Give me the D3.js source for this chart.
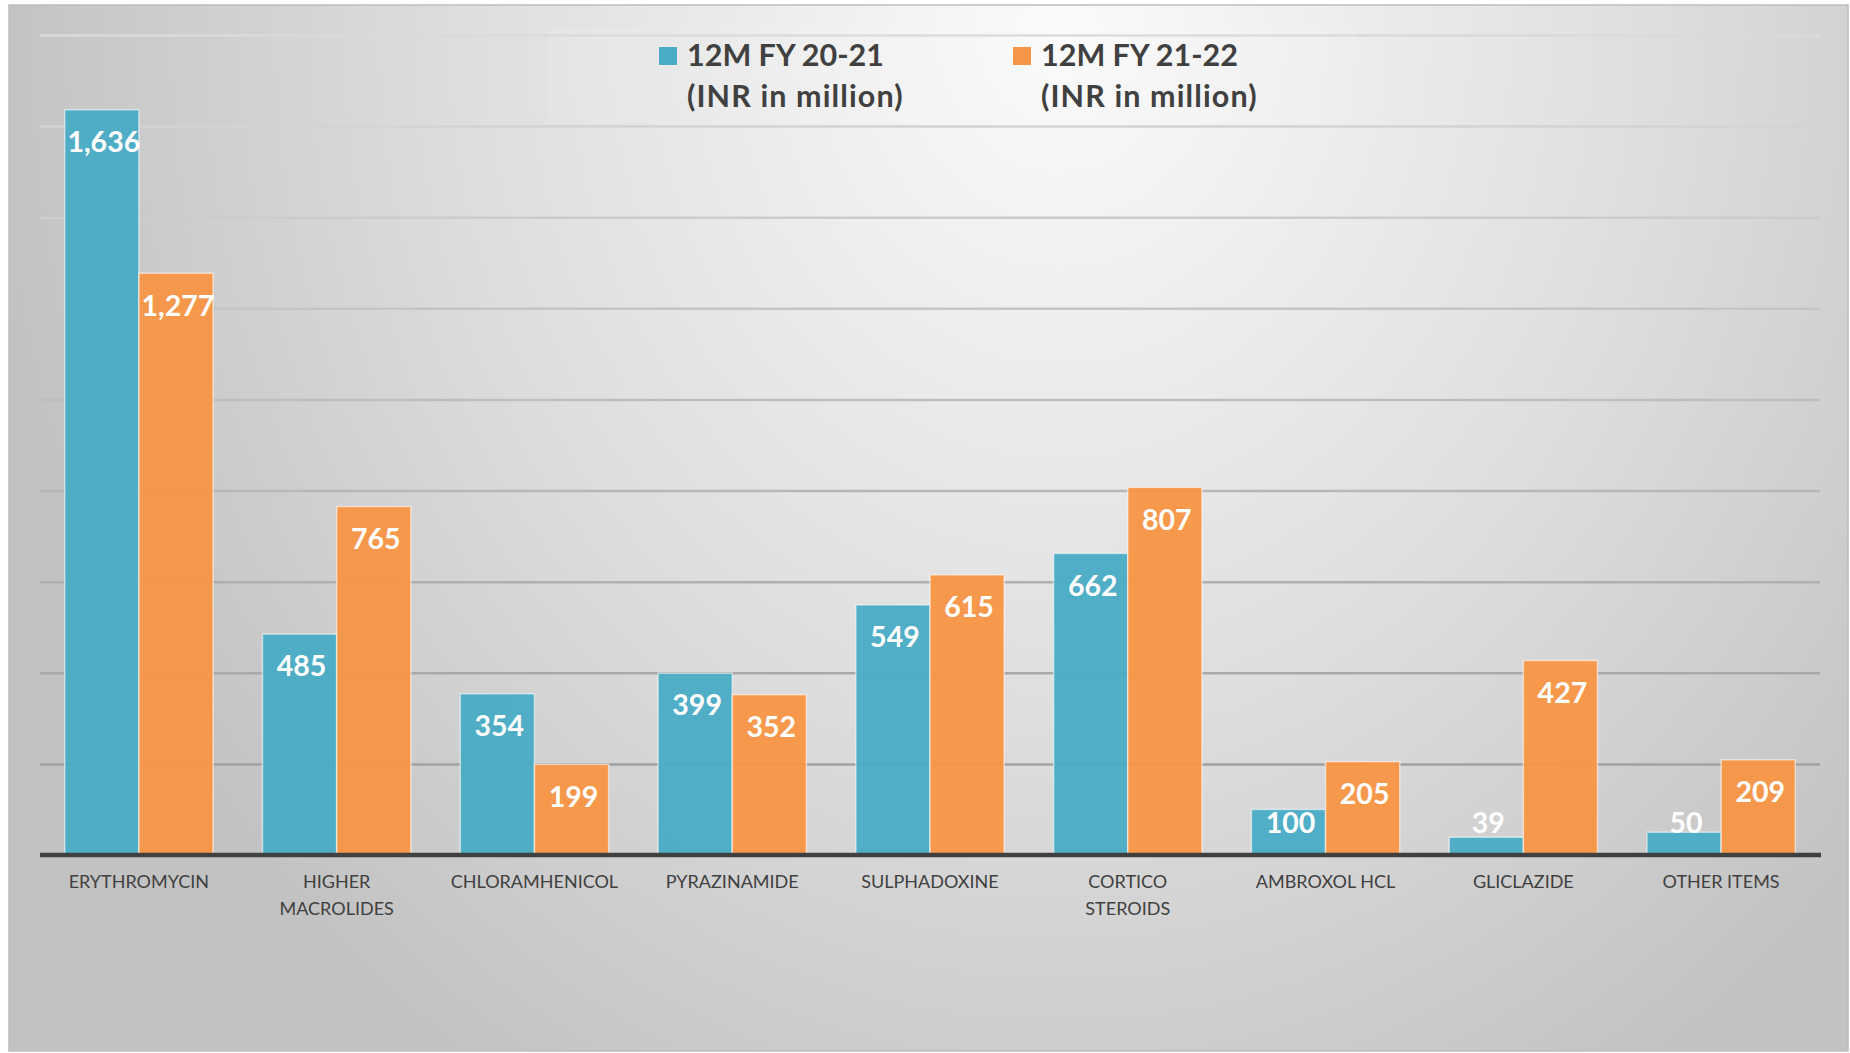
<!DOCTYPE html>
<html>
<head>
<meta charset="utf-8">
<script src="https://cdn.jsdelivr.net/npm/d3@7"></script>
<style>
  html, body { margin: 0; padding: 0; background: #ffffff; }
  svg { display: block; }
  text { font-family: Lato, "Open Sans", "DejaVu Sans", sans-serif; }
</style>
</head>
<body>
<svg id="chart" width="1850" height="1053"></svg>
<script>
// chart data
const categories = [
  'ERYTHROMYCIN', 'HIGHER\nMACROLIDES', 'CHLORAMHENICOL', 'PYRAZINAMIDE',
  'SULPHADOXINE', 'CORTICO\nSTEROIDS', 'AMBROXOL HCL', 'GLICLAZIDE', 'OTHER ITEMS'
];
const seriesNames = ['12M FY 20-21', '12M FY 21-22'];
const seriesUnit = '(INR in million)';
const fy2021 = [1636, 485, 354, 399, 549, 662, 100, 39, 50];
const fy2122 = [1277, 765, 199, 352, 615, 807, 205, 427, 209];
const yTicks = [0, 200, 400, 600, 800, 1000, 1200, 1400, 1600, 1800];

const COLORS = ['#4bacc6', '#f79646'];
const PLOT = { left: 40, right: 1820, top: 35, bottom: 855 };

const svg = d3.select('#chart');
const defs = svg.append('defs');

const bg = defs.append('radialGradient')
  .attr('id', 'bgGrad')
  .attr('gradientUnits', 'userSpaceOnUse')
  .attr('cx', 0).attr('cy', 0).attr('r', 1)
  .attr('gradientTransform', 'translate(1060,30) scale(1080,1250)');
bg.append('stop').attr('offset', 0).attr('stop-color', '#fbfbfb');
bg.append('stop').attr('offset', 0.55).attr('stop-color', '#dedede');
bg.append('stop').attr('offset', 1).attr('stop-color', '#c2c2c2');

// chart area
svg.append('rect')
  .attr('x', 9).attr('y', 5)
  .attr('width', 1839).attr('height', 1046)
  .attr('fill', 'url(#bgGrad)')
  .attr('stroke', '#bdbdbd')
  .attr('stroke-width', 1.5);

const x0 = d3.scaleBand()
  .domain(categories)
  .range([PLOT.left, PLOT.right])
  .paddingInner(0.25)
  .paddingOuter(0.125);

const x1 = d3.scaleBand()
  .domain([0, 1])
  .range([0, x0.bandwidth()]);

const y = d3.scaleLinear()
  .domain([0, 1800])
  .range([PLOT.bottom, PLOT.top]);

const gridColor = d3.scaleLinear()
  .domain([200, 1800])
  .range(['#a2a2a2', '#dadada']);

// gridlines
const gridG = svg.append('g')
  .attr('transform', `translate(${PLOT.left},0)`)
  .call(d3.axisLeft(y)
    .tickValues(yTicks.filter(t => t > 0))
    .tickSize(-(PLOT.right - PLOT.left))
    .tickFormat(() => ''));
gridG.select('.domain').remove();
gridG.selectAll('.tick line')
  .attr('stroke', d => gridColor(d))
  .attr('stroke-width', 2.5);

// bars
const seriesValues = [fy2021, fy2122];
const barData = [];
categories.forEach((c, i) => {
  seriesValues.forEach((vals, s) => barData.push({ cat: c, s, v: vals[i] }));
});

svg.append('g')
  .selectAll('rect')
  .data(barData)
  .join('rect')
  .attr('x', d => x0(d.cat) + x1(d.s))
  .attr('y', d => y(d.v))
  .attr('width', x1.bandwidth())
  .attr('height', d => y(0) - y(d.v))
  .attr('fill', d => COLORS[d.s])
  .attr('fill-opacity', 0.96)
  .attr('stroke', '#ffffff')
  .attr('stroke-opacity', 0.55)
  .attr('stroke-width', 1.5);

// value labels
svg.append('g')
  .selectAll('text')
  .data(barData)
  .join('text')
  .attr('x', d => x0(d.cat) + x1(d.s) + x1.bandwidth() / 2 + 2)
  .attr('y', d => Math.min(y(d.v) + 32, y(0) - 32))
  .attr('dy', '0.36em')
  .attr('text-anchor', 'middle')
  .attr('fill', '#ffffff')
  .attr('font-size', 28.5)
  .attr('font-weight', 700)
  .text(d => d3.format(',')(d.v));

// baseline
svg.append('line')
  .attr('x1', PLOT.left).attr('x2', PLOT.right + 1)
  .attr('y1', y(0)).attr('y2', y(0))
  .attr('stroke', '#404040')
  .attr('stroke-width', 4.5);

// category labels
const xAxisG = svg.append('g')
  .attr('transform', `translate(0,${PLOT.bottom})`)
  .call(d3.axisBottom(x0).tickSize(0).tickFormat(''));
xAxisG.select('.domain').remove();
xAxisG.selectAll('.tick').each(function (d) {
  const t = d3.select(this).append('text')
    .attr('fill', '#404040')
    .attr('font-size', 18)
    .attr('text-anchor', 'middle')
    .attr('y', 33);
  d.split('\n').forEach((line, i) => {
    t.append('tspan').attr('x', 0).attr('dy', i === 0 ? 0 : 27).text(line);
  });
});

// legend
svg.append('rect')
  .attr('x', 547).attr('y', 28)
  .attr('width', 809).attr('height', 95)
  .attr('fill', '#ffffff')
  .attr('fill-opacity', 0.08);

const legendX = [659, 1013];
const legend = svg.append('g')
  .selectAll('g')
  .data(seriesNames)
  .join('g')
  .attr('transform', (d, i) => `translate(${legendX[i]},0)`);
legend.append('rect')
  .attr('x', 0).attr('y', 47)
  .attr('width', 18).attr('height', 18)
  .attr('fill', (d, i) => COLORS[i]);
const lt = legend.append('text')
  .attr('fill', '#404040')
  .attr('font-size', 30.5)
  .attr('font-weight', 700);
lt.append('tspan').attr('x', 28).attr('y', 66).text(d => d);
lt.append('tspan').attr('x', 28).attr('y', 107)
  .attr('letter-spacing', 1.1)
  .text(seriesUnit);
</script>
</body>
</html>
